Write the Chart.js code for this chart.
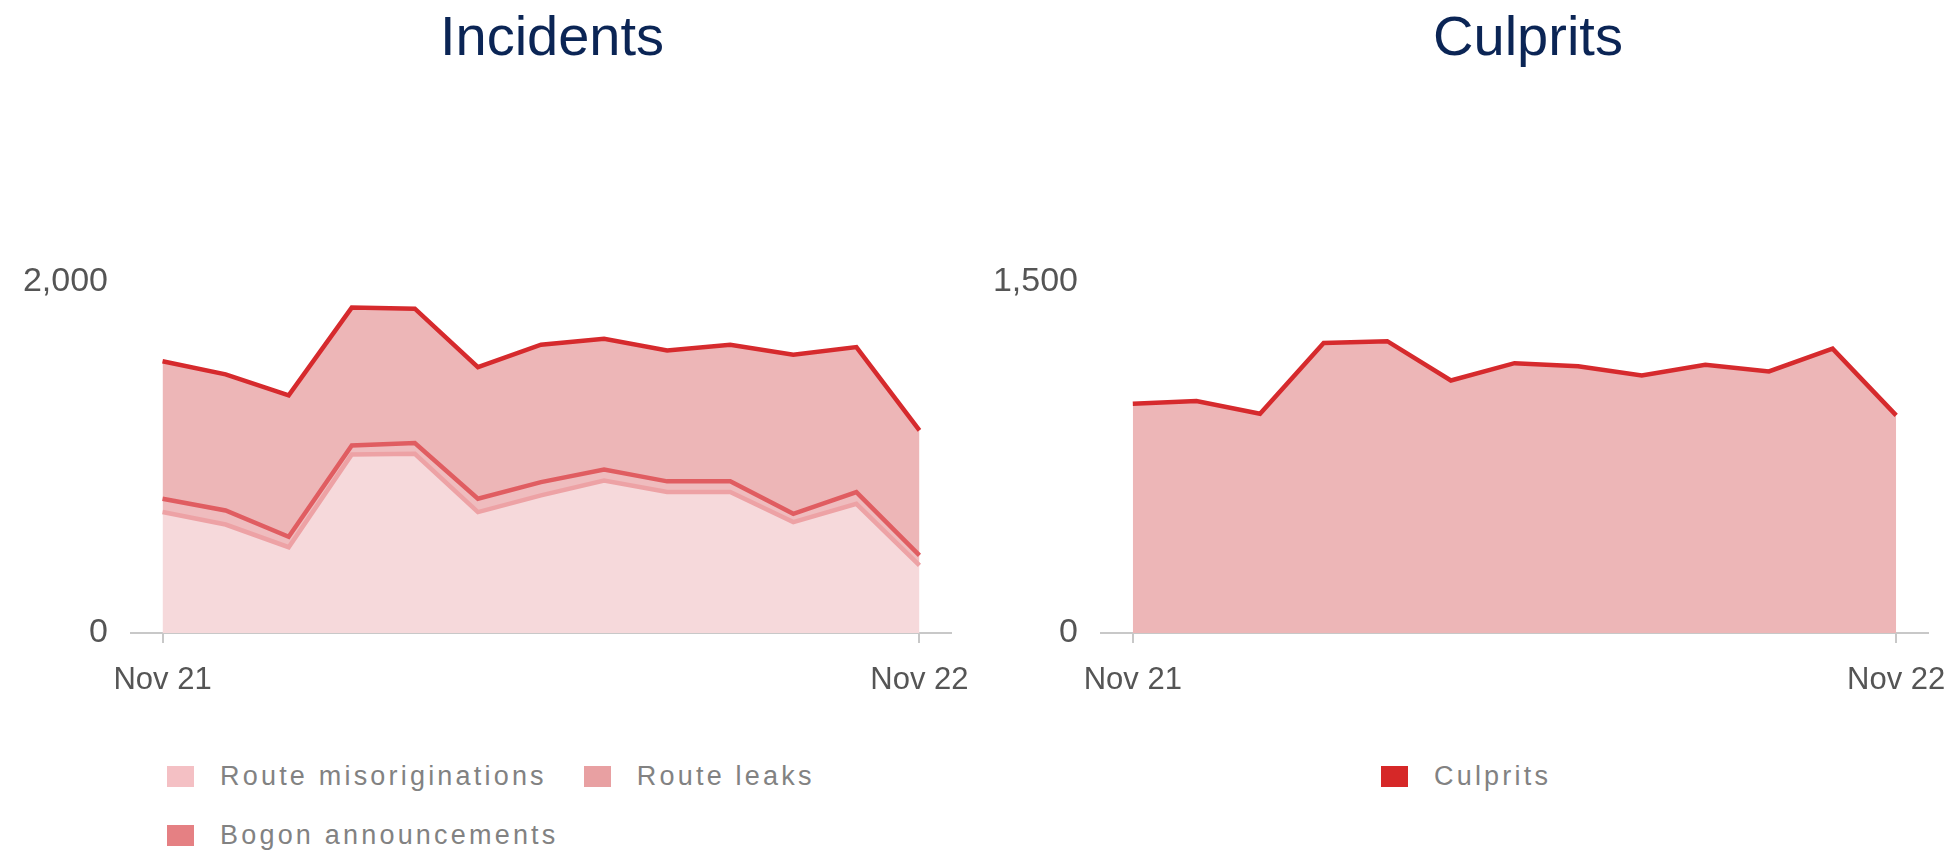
<!DOCTYPE html>
<html>
<head>
<meta charset="utf-8">
<script src="https://cdn.jsdelivr.net/npm/chart.js@4.4.0/dist/chart.umd.min.js"></script>
<style>
  body { margin: 0; background: #fff; font-family: "Liberation Sans", Arial, sans-serif; }
  #page { position: relative; width: 1959px; height: 852px; overflow: hidden; }
  .title { position: absolute; top: 8px; width: 600px; text-align: center; font-size: 56px; line-height: 56px; color: #0b2555; }
  .cbox { position: absolute; top: 0; }
  .legend { position: absolute; top: 765px; display: flex; flex-wrap: wrap; column-gap: 37px; row-gap: 37px; }
  .item { display: flex; align-items: center; height: 22px; }
  .swatch { width: 27px; height: 21px; margin-right: 26px; }
  .label { font-size: 27px; letter-spacing: 3.2px; color: #828282; white-space: nowrap; }
</style>
</head>
<body>
<div id="page">
  <div class="title" style="left:252px">Incidents</div>
  <div class="title" style="left:1228px">Culprits</div>
  <div class="cbox" style="left:0"><canvas id="incidents" width="980" height="700"></canvas></div>
  <div class="cbox" style="left:980px"><canvas id="culprits" width="979" height="700"></canvas></div>
  <div class="legend" id="legendLeft" style="left:167px; width:700px"></div>
  <div class="legend" id="legendRight" style="left:1381px; width:400px"></div>
</div>
<script>
// monthly values, Nov 2021 - Nov 2022
const months = ['Nov 21', 'Dec 21', 'Jan 22', 'Feb 22', 'Mar 22', 'Apr 22', 'May 22',
  'Jun 22', 'Jul 22', 'Aug 22', 'Sep 22', 'Oct 22', 'Nov 22'];
const misoriginations = [689, 618, 489, 1017, 1021, 689, 784, 869, 803, 803, 632, 736, 385];
const bogons = [76, 80, 59, 52, 61, 76, 76, 63, 61, 61, 47, 67, 57];
const leaks = [783, 776, 806, 785, 766, 750, 783, 745, 746, 779, 907, 826, 712];
const culprits = [980, 991, 937, 1239, 1247, 1079, 1153, 1140, 1101, 1146, 1118, 1215, 930];

const tickFont = { family: "'Liberation Sans', Arial, sans-serif" };

function xAxis() {
  return {
    offset: true,
    grid: { display: true, drawOnChartArea: false, drawTicks: true, tickLength: 10, color: '#c8c8c8', lineWidth: 2 },
    border: { display: true, color: '#c8c8c8', width: 2 },
    ticks: {
      autoSkip: false, maxRotation: 0, padding: 19, color: '#555',
      font: Object.assign({ size: 31 }, tickFont),
      callback: function (v, i) {
        return (i === 0 || i === months.length - 1) ? this.getLabelForValue(v) : null;
      }
    },
    afterFit: function (scale) {
      scale.height = 60;
      scale.paddingLeft = 0;
      scale.paddingRight = 0;
    }
  };
}

function yAxis(max, width) {
  return {
    stacked: true,
    min: 0,
    max: max,
    grid: { display: false, drawTicks: false },
    border: { display: false },
    ticks: { stepSize: max, padding: 23, color: '#555', font: Object.assign({ size: 34 }, tickFont) },
    afterFit: function (scale) { scale.width = width; }
  };
}

const common = {
  responsive: false,
  animation: false,
  devicePixelRatio: 1,
  elements: { point: { radius: 0, hoverRadius: 0 }, line: { tension: 0, borderWidth: 4.5 } },
  plugins: { legend: { display: false }, title: { display: false }, tooltip: { enabled: false } }
};

new Chart(document.getElementById('incidents'), {
  type: 'line',
  data: {
    labels: months,
    datasets: [
      { label: 'Route misoriginations', data: misoriginations, fill: 'origin',
        backgroundColor: '#f6d9db', borderColor: '#eda2a5' },
      { label: 'Bogon announcements', data: bogons, fill: '-1',
        backgroundColor: '#efbcbe', borderColor: '#e05d61' },
      { label: 'Route leaks', data: leaks, fill: '-1',
        backgroundColor: '#edb6b7', borderColor: '#d62a2d' }
    ]
  },
  options: Object.assign({}, common, {
    layout: { padding: { left: 0, right: 29, top: 282, bottom: 7 } },
    scales: { x: xAxis(), y: yAxis(2000, 131) }
  })
});

new Chart(document.getElementById('culprits'), {
  type: 'line',
  data: {
    labels: months,
    datasets: [
      { label: 'Culprits', data: culprits, fill: 'origin',
        backgroundColor: '#edb6b7', borderColor: '#d62a2d' }
    ]
  },
  options: Object.assign({}, common, {
    layout: { padding: { left: 0, right: 31, top: 282, bottom: 7 } },
    scales: { x: xAxis(), y: yAxis(1500, 121) }
  })
});

// html legends, same order as the original
function legend(el, items) {
  items.forEach(function (it) {
    const d = document.createElement('div');
    d.className = 'item';
    d.innerHTML = '<span class="swatch" style="background:' + it[1] + '"></span><span class="label">' + it[0] + '</span>';
    el.appendChild(d);
  });
}
legend(document.getElementById('legendLeft'), [
  ['Route misoriginations', '#f4c0c4'],
  ['Route leaks', '#e8a0a2'],
  ['Bogon announcements', '#e58083']
]);
legend(document.getElementById('legendRight'), [['Culprits', '#d62828']]);
</script>
</body>
</html>
